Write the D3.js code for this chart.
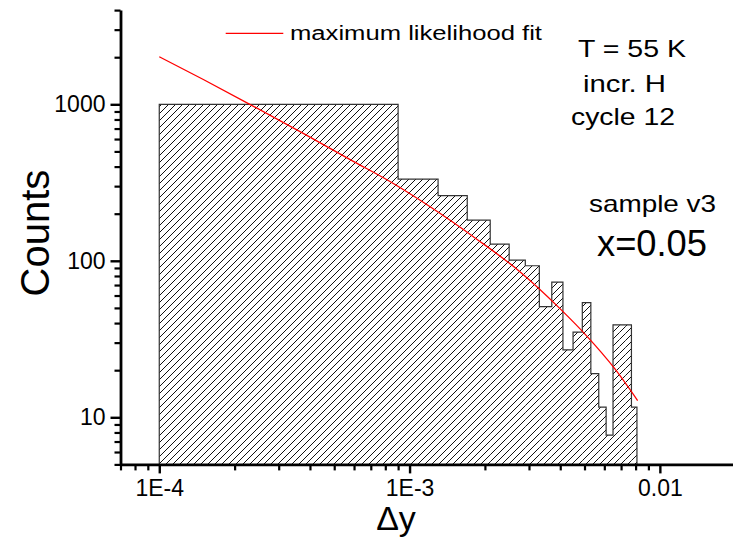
<!DOCTYPE html>
<html>
<head>
<meta charset="utf-8">
<script src="https://cdn.jsdelivr.net/npm/d3@7/dist/d3.min.js"></script>
<style>
  html, body { margin: 0; padding: 0; background: #fff; }
  svg { display: block; font-family: Arial, "Liberation Sans", sans-serif; }
</style>
</head>
<body>
<svg id="chart" width="733" height="544"></svg>
<script>
// ---- data ----
const binEdges = [1e-4, 9e-4, 1.3e-3, 1.7e-3, 2.1e-3, 2.5e-3, 2.9e-3, 3.3e-3, 3.7e-3, 4.1e-3,
                  4.5e-3, 4.9e-3, 5.3e-3, 5.7e-3, 6.1e-3, 6.5e-3, 6.9e-3, 7.3e-3, 7.7e-3, 8.1e-3];
const counts = [1000, 333, 261, 182, 128, 101, 93, 51, 73, 27, 35, 54, 19, 11.6, 7.7, 39, 39, 39, 11.6];
const fitX = [1e-4, 1.5e-4, 2.3e-4, 3.76e-4, 5.96e-4, 8.35e-4, 1.2e-3, 1.85e-3, 2.76e-3, 3.99e-3, 5.13e-3, 6.58e-3, 8.15e-3];
const fitY = [2014, 1440, 1000, 652, 432, 321, 223, 138, 85.2, 49.5, 32.8, 20.6, 12.8];
const xMajorTicks = [1e-4, 1e-3, 1e-2];
const xTickLabels = ["1E-4", "1E-3", "0.01"];
const yMajorTicks = [10, 100, 1000];
const yTickLabels = ["10", "100", "1000"];
const xDomain = [7e-5, 0.02];
const yDomain = [5, 4000];
const legendLabel = "maximum likelihood fit";
const annotations = ["T = 55 K", "incr. H", "cycle 12", "sample v3", "x=0.05"];

// ---- scales ----
const svg = d3.select("#chart");
const x = d3.scaleLog().domain(xDomain).range([120.5, 735.2]);
const y = d3.scaleLog().domain(yDomain).range([464.4, 10.1]);

// hatch pattern
const defs = svg.append("defs");
const pat = defs.append("pattern")
  .attr("id", "hatch").attr("patternUnits", "userSpaceOnUse")
  .attr("width", 7).attr("height", 7);
pat.append("path")
  .attr("d", "M-1,1 l2,-2 M0,7 l7,-7 M6,8 l2,-2")
  .attr("stroke", "#111").attr("stroke-width", 1).attr("fill", "none");

// bars
const bins = counts.map((c, i) => ({x0: binEdges[i], x1: binEdges[i + 1], c}));
svg.append("g").selectAll("rect").data(bins).join("rect")
  .attr("x", d => x(d.x0))
  .attr("width", d => x(d.x1) - x(d.x0))
  .attr("y", d => y(d.c))
  .attr("height", d => y(yDomain[0]) - y(d.c))
  .attr("fill", "url(#hatch)");

// outline
const pts = [[binEdges[0], yDomain[0]]];
bins.forEach(d => { pts.push([d.x0, d.c]); pts.push([d.x1, d.c]); });
pts.push([binEdges[binEdges.length - 1], yDomain[0]]);
svg.append("path")
  .attr("d", d3.line().x(d => x(d[0])).y(d => y(d[1]))(pts))
  .attr("fill", "none").attr("stroke", "#333").attr("stroke-width", 1.2);

// fit line
svg.append("path")
  .datum(fitX.map((v, i) => [v, fitY[i]]))
  .attr("d", d3.line().x(d => x(d[0])).y(d => y(d[1])).curve(d3.curveMonotoneX))
  .attr("fill", "none").attr("stroke", "#ff0000").attr("stroke-width", 1.3);

// axes
function minorTicks(scale) {
  const [a, b] = scale.domain();
  const out = [];
  for (let e = Math.floor(Math.log10(a)); e <= Math.ceil(Math.log10(b)); e++) {
    for (let m = 2; m <= 9; m++) {
      const v = m * Math.pow(10, e);
      if (v >= a * 0.999 && v <= b * 1.001) out.push(v);
    }
  }
  return out;
}
const axisFont = 23;
const gx = svg.append("g").attr("transform", `translate(0,${y(yDomain[0])})`);
gx.call(d3.axisBottom(x).tickValues(minorTicks(x)).tickSize(6).tickSizeOuter(0).tickFormat(""));
gx.call(g => g.select(".domain").remove());
const gx2 = svg.append("g").attr("transform", `translate(0,${y(yDomain[0])})`);
gx2.call(d3.axisBottom(x).tickValues(xMajorTicks).tickSize(9).tickSizeOuter(0)
  .tickFormat((d, i) => xTickLabels[i]).tickPadding(6));
gx2.selectAll("text").attr("font-size", axisFont).attr("fill", "#000").attr("font-family", "Arial, Liberation Sans, sans-serif");
gx.selectAll("line").attr("stroke", "#000").attr("stroke-width", 2.2);
gx2.selectAll("line").attr("stroke", "#000").attr("stroke-width", 2.4);
gx2.select(".domain").attr("stroke", "#000").attr("stroke-width", 2.6);

const gy = svg.append("g").attr("transform", `translate(${x(xDomain[0])},0)`);
gy.call(d3.axisLeft(y).tickValues(minorTicks(y)).tickSize(6).tickSizeOuter(0).tickFormat(""));
gy.call(g => g.select(".domain").remove());
const gy2 = svg.append("g").attr("transform", `translate(${x(xDomain[0])},0)`);
gy2.call(d3.axisLeft(y).tickValues(yMajorTicks).tickSize(10).tickSizeOuter(0)
  .tickFormat((d, i) => yTickLabels[i]).tickPadding(5));
gy2.selectAll("text").attr("font-size", axisFont).attr("fill", "#000").attr("font-family", "Arial, Liberation Sans, sans-serif");
gy.selectAll("line").attr("stroke", "#000").attr("stroke-width", 2.2);
gy2.selectAll("line").attr("stroke", "#000").attr("stroke-width", 2.4);
gy2.select(".domain").attr("stroke", "#000").attr("stroke-width", 2.8);

// axis titles
svg.append("text").text("Counts")
  .attr("transform", "translate(49,233) rotate(-90)")
  .attr("text-anchor", "middle").attr("font-size", 40).attr("fill", "#000");
svg.append("text").text("\u0394y")
  .attr("x", 396).attr("y", 530)
  .attr("text-anchor", "middle").attr("font-size", 34).attr("fill", "#000");

// legend
svg.append("line").attr("x1", 225.7).attr("x2", 283.3).attr("y1", 33.3).attr("y2", 33.3)
  .attr("stroke", "#ff0000").attr("stroke-width", 1.3);
svg.append("text").text(legendLabel).attr("x", 290).attr("y", 40)
  .attr("font-size", 20).attr("textLength", 252).attr("lengthAdjust", "spacingAndGlyphs")
  .attr("fill", "#000");

// annotations: [x start, baseline, font size, width]
const annPos = [[578, 57, 24, 108], [583, 92, 24, 83], [571, 125, 24, 104], [589, 212, 24, 127], [597, 256, 36, 110]];
annotations.forEach((t, i) => {
  svg.append("text").text(t)
    .attr("x", annPos[i][0]).attr("y", annPos[i][1])
    .attr("font-size", annPos[i][2])
    .attr("textLength", annPos[i][3]).attr("lengthAdjust", "spacingAndGlyphs")
    .attr("fill", "#000");
});
</script>
</body>
</html>
